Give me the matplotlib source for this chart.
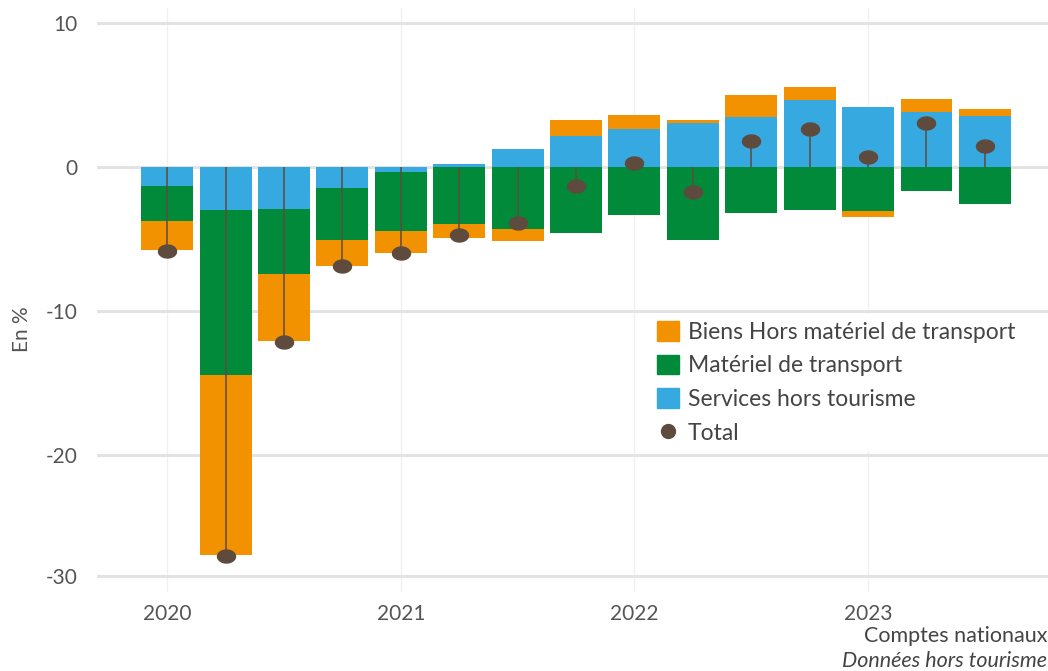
import numpy as np
import matplotlib.pyplot as plt
from matplotlib.path import Path
from matplotlib.lines import Line2D
from matplotlib.patches import Patch

plt.rcParams['font.family'] = ['Lato', 'DejaVu Sans']
plt.rcParams['axes.unicode_minus'] = False

quarters = ['2020T1', '2020T2', '2020T3', '2020T4',
            '2021T1', '2021T2', '2021T3', '2021T4',
            '2022T1', '2022T2', '2022T3', '2022T4',
            '2023T1', '2023T2', '2023T3']
year_labels = ['2020', '2021', '2022', '2023']

services = [-1.3, -2.95, -2.9, -1.45, -0.35, 0.23, 1.25, 2.15, 2.66, 3.06, 3.45, 4.68, 4.19, 3.8, 3.52]
transport = [-2.45, -11.5, -4.55, -3.6, -4.1, -3.94, -4.3, -4.6, -3.36, -5.05, -3.19, -2.96, -3.08, -1.64, -2.55]
biens = [-2.0, -13.8, -4.65, -1.85, -1.55, -0.99, -0.86, 1.14, 0.97, 0.23, 1.55, 0.88, -0.42, 0.92, 0.48]
total = [-5.8, -28.3, -12.15, -6.9, -6.0, -4.7, -3.88, -1.3, 0.25, -1.76, 1.82, 2.62, 0.69, 3.09, 1.45]

c_biens = '#F39200'
c_transport = '#008A39'
c_services = '#36A9E1'
c_total = '#5E4B3E'

# the bottom of the value axis is squeezed below -20
k = 121 / 144
def fwd(v):
    v = np.asarray(v, dtype=float)
    return np.where(v >= -20, v, -20 + (v + 20) * k)
def inv(v):
    v = np.asarray(v, dtype=float)
    return np.where(v >= -20, v, -20 + (v + 20) / k)

fig = plt.figure(figsize=(10.48, 6.71), dpi=100)
ax = fig.add_axes([97 / 1048, 1 - 592 / 671, 1 - 97 / 1048, (592 - 8) / 671])
ax.set_yscale('function', functions=(fwd, inv))

x = np.arange(len(quarters))
w = 0.89
pos = np.zeros(len(x))
neg = np.zeros(len(x))
for vals, col in [(services, c_services), (transport, c_transport), (biens, c_biens)]:
    v = np.array(vals)
    base = np.where(v >= 0, pos, neg)
    ax.bar(x, v, w, bottom=base, color=col, zorder=2, linewidth=0)
    pos = pos + np.where(v >= 0, v, 0)
    neg = neg + np.where(v < 0, v, 0)

ax.vlines(x, 0, total, color=c_total, linewidth=1.1, zorder=3)
t = np.linspace(0, 2 * np.pi, 40)
ell = Path(np.column_stack([np.cos(t), 0.72 * np.sin(t)]))
ax.plot(x, total, linestyle='none', marker=ell, markersize=13, color=c_total, zorder=4)

ax.set_xlim(-1.2, 15.08)
ax.set_ylim(-31.3, 11.04)
ax.set_yticks([10, 0, -10, -20, -30])
ax.set_xticks(x[::4])
ax.set_xticklabels(year_labels)

ax.grid(axis='y', color='#e3e3e3', linewidth=2.2, zorder=0)
ax.grid(axis='x', color='#f0f0f0', linewidth=1, zorder=0)
for s in ax.spines.values():
    s.set_visible(False)
ax.tick_params(length=0, labelsize=15, labelcolor='#555555')
ax.tick_params(axis='y', pad=14)
ax.tick_params(axis='x', pad=9)
ax.set_ylabel('En %', fontsize=15, color='#555555')
ax.yaxis.set_label_coords(-0.068, 0.45)

handles = [Patch(color=c_biens), Patch(color=c_transport), Patch(color=c_services),
           Line2D([], [], linestyle='none', marker='o', markersize=10, color=c_total)]
labels = ['Biens Hors matériel de transport', 'Matériel de transport',
          'Services hors tourisme', 'Total']
leg = fig.legend(handles, labels, loc='upper left', bbox_to_anchor=(650 / 1048, 1 - 314 / 671),
                 bbox_transform=fig.transFigure, borderaxespad=0, frameon=True,
                 facecolor='white', edgecolor='none', framealpha=1, fontsize=16.5,
                 handlelength=0.95, handleheight=0.95, handletextpad=0.4, labelspacing=0.52,
                 borderpad=0.3)
for txt in leg.get_texts():
    txt.set_color('#444444')

fig.text(1047 / 1048, 1 - 636 / 671, 'Comptes nationaux', ha='right', va='center',
         fontsize=15.5, color='#444444')
fig.text(1047 / 1048, 1 - 661 / 671, 'Données hors tourisme', ha='right', va='center',
         fontsize=15.5, color='#444444', style='italic')

fig.savefig('out.png', dpi=100)
